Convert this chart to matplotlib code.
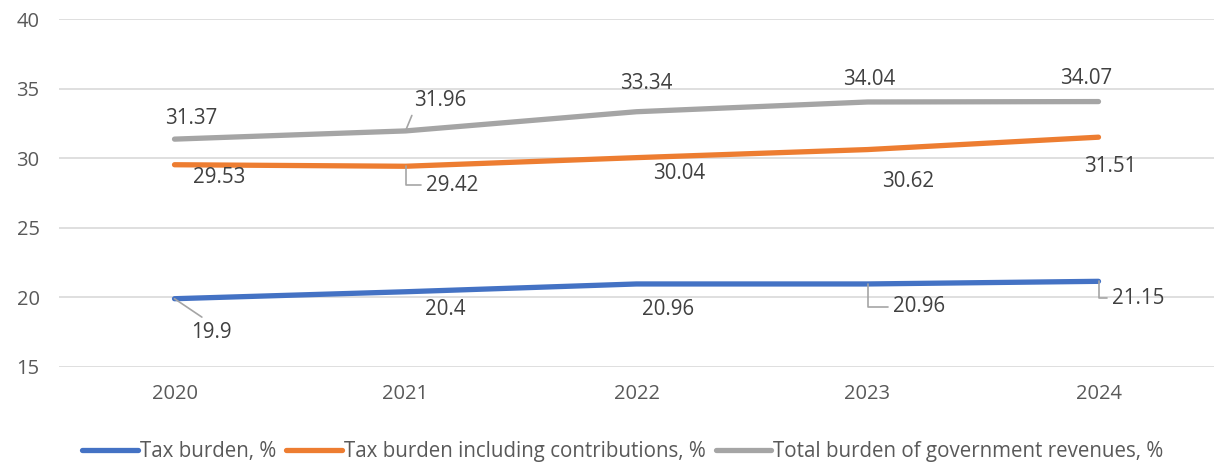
import matplotlib
matplotlib.use("Agg")
import matplotlib.pyplot as plt

years = ["2020", "2021", "2022", "2023", "2024"]
tax_burden = [19.9, 20.4, 20.96, 20.96, 21.15]
tax_contrib = [29.53, 29.42, 30.04, 30.62, 31.51]
total_burden = [31.37, 31.96, 33.34, 34.04, 34.07]
series_names = ["Tax burden, %", "Tax burden including contributions, %",
                "Total burden of government revenues, %"]
colors = ["#4472C4", "#ED7D31", "#A5A5A5"]

# label offsets (pixels) and leader-line style
offsets = {
    0: [(37, -34, "diag"), (40, -18, None), (32, -26, None), (52, -23, "elbow"), (40, -17, "elbow")],
    1: [(45, -13, None), (47, -19, "elbow"), (43, -16, None), (41, -32, None), (12, -29, None)],
    2: [(17, 21, None), (35, 30, "diag2"), (10, 28, None), (2, 22, None), (-12, 23, None)],
}

plt.rcParams['font.family'] = ['Open Sans', 'DejaVu Sans']

fig = plt.figure(figsize=(12.14, 4.65), dpi=100)
ax = fig.add_axes([0.0486, 0.211, 0.9514, 0.748])

x = list(range(len(years)))
all_series = [tax_burden, tax_contrib, total_burden]
for i, (vals, name, c) in enumerate(zip(all_series, series_names, colors)):
    ax.plot(x, vals, color=c, lw=3.8, solid_capstyle='round', label=name, zorder=3)

for i, vals in enumerate(all_series):
    for j, v in enumerate(vals):
        dx, dy, lead = offsets[i][j]
        txt = f"{v:g}"
        kw = dict(xytext=(dx, dy), textcoords='offset pixels', ha='center', va='center',
                  fontsize=14.8, color='#404040', zorder=4)
        if lead == "elbow":
            kw['arrowprops'] = dict(arrowstyle='-', color='#A5A5A5', lw=1.2,
                                    connectionstyle='angle,angleA=0,angleB=90,rad=0',
                                    relpos=(0, 0.5), shrinkA=2, shrinkB=0)
        elif lead == "diag":
            kw['arrowprops'] = dict(arrowstyle='-', color='#A5A5A5', lw=1.2,
                                    relpos=(0.45, 1.0), shrinkA=3, shrinkB=0)
        elif lead == "diag2":
            kw['arrowprops'] = dict(arrowstyle='-', color='#A5A5A5', lw=1.2,
                                    relpos=(0.0, 0.1), shrinkA=1, shrinkB=0)
        ax.annotate(txt, (j, v), **kw)

ax.set_xlim(-0.5, len(years) - 0.5)
ax.set_ylim(15, 40)
ax.set_yticks([15, 20, 25, 30, 35, 40])
ax.set_xticks(x)
ax.set_xticklabels(years)
ax.grid(axis='y', color='#D9D9D9', lw=1.2)
ax.set_axisbelow(True)
for s in ax.spines.values():
    s.set_visible(False)
ax.tick_params(axis='both', length=0, labelsize=14.5, labelcolor='#595959')
ax.tick_params(axis='y', pad=14)
ax.tick_params(axis='x', pad=12)

leg = fig.legend(loc='center', bbox_to_anchor=(0.513, 0.028), ncol=3, frameon=False,
                 prop={'family': ['Open Sans', 'DejaVu Sans'], 'size': 14.8},
                 handlelength=2.7, handletextpad=0.1, columnspacing=0.5,
                 labelcolor='#595959')
for h in leg.legend_handles:
    h.set_linewidth(3.8)

fig.savefig("out.png", dpi=100)
